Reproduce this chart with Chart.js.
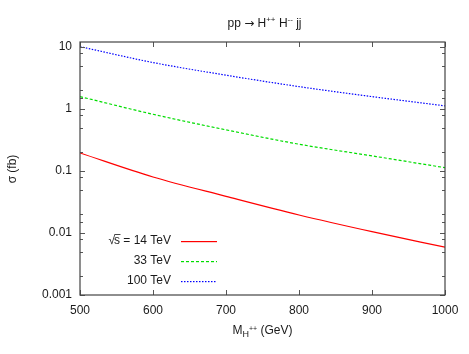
<!DOCTYPE html>
<html><head><meta charset="utf-8">
<script src="https://cdn.jsdelivr.net/npm/chart.js@4/dist/chart.umd.min.js"></script>
<style>html,body{margin:0;padding:0;background:#fff}#wrap{width:469px;height:354px}</style>
</head><body><div id="wrap"><canvas id="c" width="469" height="354"></canvas></div>
<script>
// ---- data ----
const masses = [500, 600, 700, 800, 900, 1000];          // M_H++ (GeV)
const sigma14 = [0.195, 0.080, 0.039, 0.0195, 0.0105, 0.0059];  // fb, sqrt(s)=14 TeV
const sigma33 = [1.58, 0.82, 0.46, 0.27, 0.175, 0.113];        // fb, 33 TeV
const sigma100 = [10.1, 5.6, 3.5, 2.29, 1.58, 1.12];            // fb, 100 TeV
const seriesNames = ['14 TeV', '33 TeV', '100 TeV'];
const yTickLabels = ['0.001', '0.01', '0.1', '1', '10'];
const xTickValues = [500, 600, 700, 800, 900, 1000];

const COLORS = ['#ff0000', '#00dd00', '#0000ff'];
const DASHES = [[], [3, 2], [1.5, 1.5]];
const FONT = '"Liberation Sans", Arial, sans-serif';
const TXT = '#1a1a1a';

function pts(arr){ return masses.map((m,i)=>({x:m, y:arr[i]})); }

function drawRuns(ctx, runs, x, y, align){
  let w = 0;
  runs.forEach(r=>{ ctx.font = r.size+'px '+(r.font||FONT); r.w = ctx.measureText(r.t).width; w += r.w; });
  let cx = align==='center' ? x - w/2 : (align==='right' ? x - w : x);
  ctx.textAlign = 'left'; ctx.textBaseline = 'alphabetic';
  runs.forEach(r=>{ ctx.font = r.size+'px '+(r.font||FONT); ctx.fillText(r.t, cx, y + (r.dy||0)); cx += r.w; });
}

const decor = {
  id: 'decor',
  afterDraw(chart){
    const ctx = chart.ctx, a = chart.chartArea;
    const xs = chart.scales.x, ys = chart.scales.y;
    ctx.save();
    // ticks (inward, mirrored)
    ctx.strokeStyle = '#555'; ctx.lineWidth = 1;
    ctx.beginPath();
    xs.ticks.forEach(t=>{
      const px = Math.round(xs.getPixelForValue(t.value)) + 0.5;
      ctx.moveTo(px, a.bottom); ctx.lineTo(px, a.bottom - 5);
      ctx.moveTo(px, a.top); ctx.lineTo(px, a.top + 5);
    });
    ys.ticks.forEach(t=>{
      const v = t.value;
      if (v > ys.max) return;
      const e = Math.log10(v);
      const mant = Math.round(v / Math.pow(10, Math.floor(e + 1e-9)));
      const major = Math.abs(e - Math.round(e)) < 1e-6;
      if (!major && ![2,5,8].includes(mant)) return;
      const len = major ? 5 : 3;
      const py = Math.round(ys.getPixelForValue(v)) + 0.5;
      ctx.moveTo(a.left, py); ctx.lineTo(a.left + len, py);
      ctx.moveTo(a.right, py); ctx.lineTo(a.right - len, py);
    });
    ctx.stroke();
    // frame
    ctx.strokeStyle = '#444'; ctx.lineWidth = 1.2;
    ctx.strokeRect(a.left, a.top, a.right - a.left, a.bottom - a.top);

    ctx.fillStyle = TXT;
    const cxm = (a.left + a.right) / 2;
    // title: pp -> H++ H-- jj
    drawRuns(ctx, [
      {t:'pp ', size:12},
      {t:'\u2192', size:12, font:'"DejaVu Sans", sans-serif'},
      {t:' H', size:12},
      {t:'++', size:8, dy:-5},
      {t:' H', size:12},
      {t:'--', size:8, dy:-5},
      {t:' jj', size:12}
    ], cxm + 2, 27, 'center');
    // x axis title: M_{H++} (GeV)
    drawRuns(ctx, [
      {t:'M', size:12},
      {t:'H', size:9, dy:3},
      {t:'++', size:7, dy:-3},
      {t:' (GeV)', size:12}
    ], cxm, 334, 'center');
    // y axis title
    ctx.save();
    ctx.translate(16, 169); ctx.rotate(-Math.PI/2);
    ctx.font = '12px '+FONT; ctx.textAlign = 'center'; ctx.textBaseline = 'alphabetic';
    ctx.fillText('\u03c3 (fb)', 0, 0);
    ctx.restore();

    // legend
    const rows = [241, 261, 281];
    seriesNames.forEach((name, i)=>{
      const y = rows[i];
      ctx.fillStyle = TXT;
      ctx.font = '12px '+FONT; ctx.textAlign = 'right'; ctx.textBaseline = 'middle';
      if (i === 0){
        const rest = ' = ' + name;
        const wRest = ctx.measureText(rest).width;
        const wS = ctx.measureText('s').width;
        ctx.fillText(rest, 171, y);
        ctx.fillText('s', 171 - wRest, y);
        ctx.fillText('\u221a', 171 - wRest - wS + 1, y);
        ctx.fillRect(171 - wRest - wS + 0.5, y - 7, wS, 0.8);
      } else {
        ctx.fillText(name, 171, y);
      }
      // sample line
      ctx.fillStyle = COLORS[i];
      const d = DASHES[i];
      if (d.length === 0) {
        ctx.fillRect(181, y, 36, 1.2);
      } else {
        for (let x = 181; x < 217; x += d[0] + d[1]) {
          ctx.fillRect(x, y, Math.min(d[0], 217 - x), 1.2);
        }
      }
    });
    ctx.restore();
  }
};

const series = [sigma14, sigma33, sigma100];
new Chart(document.getElementById('c'), {
  type: 'line',
  data: {
    datasets: series.map((s, i)=>({
      label: seriesNames[i], data: pts(s), borderColor: COLORS[i], borderWidth: 1.2,
      borderDash: DASHES[i], pointRadius: 0, tension: 0.4, cubicInterpolationMode: 'monotone', fill: false
    }))
  },
  options: {
    responsive: false,
    animation: false,
    events: [],
    layout: {padding: {top: 42, right: 24, left: 0, bottom: 0}},
    plugins: {legend: {display: false}, title: {display: false}, tooltip: {enabled: false}},
    scales: {
      x: {
        type: 'linear', min: 500, max: 1000,
        afterBuildTicks: s => { s.ticks = xTickValues.map(v=>({value:v})); },
        afterFit: s => { s.height = 59; },
        grid: {display: false, drawTicks: false},
        border: {display: false},
        ticks: {font: {family: FONT, size: 12}, color: TXT, padding: 8, maxRotation: 0, autoSkip: false,
                callback: v => String(v)}
      },
      y: {
        type: 'logarithmic', min: 0.001, max: 12,
        afterFit: s => { s.width = 80; },
        grid: {display: false, drawTicks: false},
        border: {display: false},
        ticks: {
          font: {family: FONT, size: 12}, color: TXT, padding: 8, autoSkip: false,
          callback: v => {
            const e = Math.log10(v);
            if (Math.abs(e - Math.round(e)) > 1e-6) return '';
            const idx = Math.round(e) + 3;
            return yTickLabels[idx] !== undefined ? yTickLabels[idx] : '';
          }
        }
      }
    }
  },
  plugins: [decor]
});
</script>
</body></html>
